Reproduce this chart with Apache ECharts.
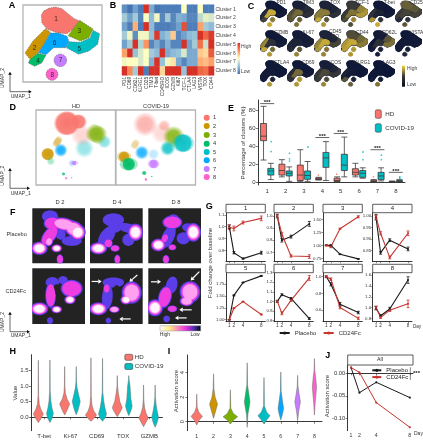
<!DOCTYPE html>
<html><head><meta charset="utf-8">
<style>html,body{margin:0;padding:0;background:#fff}#c{width:423px;height:440px}</style>
<script src="https://cdn.jsdelivr.net/npm/echarts@6/dist/echarts.min.js"></script>
</head><body><div id="c"></div>
<script>
// ---------- DATA ----------
const clusterNames=['1','2','3','4','5','6','7','8'];
const clusterColors=['#F8766D','#CD9600','#7CAE00','#00BE67','#00BFC4','#00A9FF','#C77CFF','#FF61CC'];
const groupNames=['HD','COVID-19'];
const HD_COLOR='#F8766D', COVID_COLOR='#00BFC4';
// UMAP cluster outlines
const poly1=[[123,45],[130,32],[145,24],[165,20],[185,25],[205,42],[222,55],[238,62],[218,86],[200,100],[170,97],[140,86],[125,68]];
const poly2=[[135,85],[150,95],[130,135],[112,157],[90,178],[74,158],[98,122]];
const poly3=[[238,60],[278,86],[266,112],[240,122],[203,106],[218,86]];
const poly4=[[112,159],[137,165],[124,188],[103,198],[84,188],[88,179]];
const poly5=[[278,90],[298,100],[292,132],[266,152],[235,162],[198,142],[206,124],[240,126],[269,113]];
const poly6=[[150,98],[175,98],[200,108],[206,124],[196,142],[160,142],[137,163],[114,157],[132,130]];
const ellipse7=[180,180,19,19,0], ellipse8=[155,222,18,18,0];
const clusterLabelPos=[[167,58],[103,143],[237,94],[113,184],[237,148],[163,128],[181,180],[156,226]];
// Heatmap
const heatColumns=['PD1','CD69','CD62L','KLRG1','CD25','TIM3','T-bet','CD45RO','ICOS','GZMB','Ki67','TCF-1','CTLA4','LAG3','VISTA','TOX','CD44'];
const heatRows=['Cluster 1','Cluster 2','Cluster 3','Cluster 4','Cluster 5','Cluster 6','Cluster 7','Cluster 8'];
const heatR1=[-1.2,-1.5,-1.0,-1.4,2.0,-0.9,-1.5,-1.4,-1.4,-1.4,-1.4,0.2,-1.4,-1.4,0.2,-1.4,-1.4];
const heatR2=[-0.5,-1.0,-0.5,-1.3,0.2,-0.7,0.1,-1.3,-0.5,-1.3,-0.8,-0.9,-1.3,-1.3,-0.3,0.0,-0.1];
const heatR3=[-1.0,-1.4,0.8,-1.4,2.0,-0.7,-1.4,-1.4,-1.4,-1.3,-1.0,1.6,-1.4,-1.4,0.9,-0.5,-0.7];
const heatR4=[-0.5,0.1,-1.2,0.1,0.1,-0.6,1.8,-0.8,-0.6,0.6,-1.3,-1.0,-0.7,-0.6,1.9,1.4,1.8];
const heatR5=[-1.0,-0.5,1.9,-0.4,1.0,-1.3,-0.9,-1.3,-0.8,-1.3,-1.3,2.0,-1.0,-0.5,1.3,-0.2,1.9];
const heatR6=[0.9,2.0,-0.6,-0.1,0.2,-0.5,-0.7,2.0,-0.9,-0.7,-0.6,-0.1,-0.9,-0.9,0.6,0.5,1.5];
const heatR7=[0.1,0.2,0.2,-0.1,0.2,-0.8,2.0,-0.6,0.1,0.4,-0.9,-1.3,-0.9,-0.9,0.8,0.7,0.9];
const heatR8=[1.9,1.1,-0.5,1.9,-1.4,1.9,1.9,0.5,1.9,1.9,1.9,-0.6,1.9,1.9,1.4,1.3,1.9];
const heatMatrix=[heatR1,heatR2,heatR3,heatR4,heatR5,heatR6,heatR7,heatR8];
// Feature maps: marker and mean level per cluster
const featureNames=['PD1','TIM3','TOX','TCF-1','T-bet','CD25','GZMB','Ki-67','CD45\nRO','CD44','CD62L','VISTA','CTLA4','CD69','ICOS','KLRG1','LAG3'];
const featureLevels=[
[.02,.12,.02,.25,.04,.8,.55,.8],[.06,.3,.12,.35,.15,.45,.4,.5],[.08,.55,.08,.8,.15,.55,.35,.7],[.2,.2,.6,.3,.7,.5,.6,.3],
[.02,.15,.02,.7,.04,.08,.15,.8],[.4,.2,.35,.12,.25,.25,.15,.35],[.02,.6,.03,.8,.05,.15,.45,.7],[.04,.08,.04,.12,.06,.08,.35,.6],
[.08,.6,.08,.7,.25,.8,.5,.6],[.3,.7,.45,.75,.55,.8,.7,.7],[.04,.02,.35,.04,.5,.15,.08,.05],[.02,.04,.03,.04,.03,.04,.05,.1],
[.02,.04,.02,.04,.02,.04,.08,.7],[.02,.12,.02,.15,.04,.45,.7,.7],[.05,.18,.08,.2,.18,.28,.28,.6],[.02,.08,.02,.35,.02,.04,.08,.4],[.01,.02,.01,.04,.01,.02,.03,.5]];
// D: cell clouds [cluster, cx, cy, rx, ry, rot°, alpha]
const cloudsHD=[[4,212,132,52,30,0,.4],[4,272,112,28,20,25,.45],[0,205,92,46,34,0,.3],[2,248,88,52,27,28,.9],[0,195,50,24,22,0,.95],[0,160,55,38,37,0,1],[5,175,178,24,12,0,.25],[1,132,112,10,32,32,.6],[1,103,150,19,19,0,.95],[3,112,172,20,13,0,.35],[5,142,138,20,24,18,.9],[6,182,177,13,7,0,.95],[3,150,211,7,6,0,.8],[7,158,224,5,9,0,.7],[3,175,223,5,2.5,0,.9]];
const cloudsCOVID=[[0,205,85,50,34,0,.28],[0,155,58,38,38,0,.55],[0,212,62,26,18,20,.4],[2,240,96,44,32,20,.85],[4,268,116,32,28,0,.95],[4,222,132,42,23,10,.85],[5,145,145,20,30,20,.85],[5,180,150,18,18,0,.25],[1,92,158,21,17,0,.95],[1,125,120,10,28,30,.4],[3,106,181,27,20,0,1],[6,180,180,18,14,0,.95],[3,152,208,9,8,0,.85],[7,157,228,5,10,0,.9],[3,175,218,5,2.5,0,.9]];
// E: box stats [low,Q1,median,Q3,high]
const boxHD=[[24.6,46,51,65,84],[6,8,13,20,25],[1,2,8,19,36],[2.5,3,3.7,4.8,5.5],[.5,1,2,4.5,6],[6,8,11,15,21],[.2,.7,1,2.2,3],[.2,.3,.6,.9,1.4]];
const boxCOVID=[[3,8,12.5,15.4,21],[1,7,10,12.5,17],[1,3.3,7.5,12.5,23],[2,16.5,27,33,45],[6,13,19,31,50],[4.5,5.5,10,13,16],[1.5,3,7,11,16],[.5,.8,1.2,2,3]];
const outliersHD=[[],[],[],[8],[9],[],[6],[]];
const outliersCOVID=[[45,34],[32,26,23.5],[39],[],[],[33.5,25],[30,25],[3.7,5,6]];
const boxSigCats=[1,4,5,7,8], boxSigLevels=[87,49.5,54,36,11];
const boxTicks=[0,20,40,60,80];
// F: density blobs in image space [cx,cy,rx,ry,rot°,level]; level -1 is a gap
const densityPlaceboD2=[[53,24,24,18,0,0],[60,45,26,20,0,1],[95,48,40,20,10,2],[125,62,30,24,25,2],[136,72,24,24,0,3],[52,82,19,36,38,1],[85,78,15,16,0,0],[118,98,30,15,0,0],[21,120,25,20,0,3],[50,100,12,14,20,2],[73,120,16,12,0,3],[83,153,10,15,0,1]];
const densityPlaceboD4=[[70,35,32,20,0,0],[75,55,20,18,0,0],[115,60,34,14,15,0],[136,72,23,26,0,3],[50,85,20,36,35,0],[25,120,26,18,0,3],[55,105,13,13,20,1],[75,120,14,10,0,1],[82,153,9,14,0,1],[115,95,18,18,0,0]];
const densityPlaceboD8=[[72,42,30,20,0,1],[75,30,16,12,0,0],[125,60,24,14,15,0],[135,72,23,28,0,3],[60,85,18,36,25,0],[30,110,22,19,0,3],[50,90,10,14,20,1],[72,117,12,9,0,1],[53,153,10,13,0,1],[105,90,20,18,0,0]];
const densityCD24D2=[[60,42,20,16,0,0],[92,35,14,12,0,0],[118,60,33,26,0,1],[130,55,18,16,0,0],[73,62,10,15,0,-1],[113,93,17,13,0,3],[55,80,16,38,0,1],[21,120,27,19,0,3],[73,122,16,11,0,3],[53,155,9,10,0,0]];
const densityCD24D4=[[70,42,32,15,0,0],[52,85,16,36,5,0],[50,60,10,14,0,1],[125,72,30,33,0,2],[80,68,10,18,0,-1],[108,93,17,14,0,3],[25,120,27,19,0,3],[73,122,16,10,0,2],[55,155,8,9,0,0]];
const densityCD24D8=[[70,50,17,26,15,0],[50,85,20,34,15,1],[125,70,31,32,0,2],[115,97,21,15,0,2],[20,117,24,25,0,3],[72,120,15,10,0,1],[55,150,10,10,0,0]];
const densityFrames=[densityPlaceboD2,densityPlaceboD4,densityPlaceboD8,densityCD24D2,densityCD24D4,densityCD24D8];
const densityTitles=['D 2','D 4','D 8'];
const arrowsCD24D4=[[5,39,35,39],[142,20,118,40],[122,150,88,150]];
const arrowsCD24D8=[[8,40,38,40],[153,10,127,36],[130,123,93,123],[115,147,80,147]];
// G
const days=[1,2,4,8];
const gPlacebo=[[1,.78,.73,.78],[1,.8,.83,.935],[1,1,.83,.74],[.995,.84,.895,.857],[1,1.51,1.78,1.92],[1,1.07,1.03,.82],[1,.91,.67,.57],[.99,.85,.975,1.51]];
const gCD24=[[.995,.985,1.035,1.07],[1,.85,.67,.665],[1,.975,1.32,1.55],[.997,.925,.82,.925],[1,1.24,1.38,1.11],[1,.875,1.01,1.245],[1,.97,.63,.5],[1,.82,.95,1.07]];
const gPlaceboErr=[[.015,.01,.005,.012],[.015,.015,.012,.02],[.005,.01,.005,.005],[.012,.006,.006,.008],[.005,.01,.005,.01],[.01,.01,.01,.01],[.01,.02,.02,.015],[.03,.02,.03,.06]];
const gCD24Err=[[.02,.02,.012,.02],[.01,.015,.01,.015],[.01,.02,.01,.02],[.005,.007,.006,.01],[.005,.01,.005,.01],[.01,.015,.01,.025],[.01,.015,.015,.015],[.03,.02,.02,.07]];
const gTicks=[['0.7','0.8','0.9','1.0','1.1'],['0.7','0.8','0.9','1.0'],['0.75','1.00','1.25','1.50'],['0.80','0.85','0.90','0.95','1.00'],['1.00','1.25','1.50','1.75'],['0.8','0.9','1.0','1.1','1.2','1.3'],['0.6','0.8','1.0'],['0.8','1.0','1.2','1.4','1.6']];
const gRanges=[[.704,1.118],[.6226,1.0275],[.686,1.628],[.8014,1.0145],[.958,1.987],[.787,1.30],[.46,1.048],[.74,1.646]];
// H: violins, profile of [value, half width]
const hMarkers=['T-bet','Ki-67','CD69','TOX','GZMB'];
const violinHD=[
[[-.17,0],[-.05,2.6],[.1,5],[.25,2.6],[.42,.9],[.7,.25],[1.82,.05]],
[[.07,0],[.22,2.4],[.42,5],[.6,2.2],[.78,.7],[1,.25],[1.62,.05]],
[[-.13,0],[-.03,3.2],[.07,5.6],[.2,2.8],[.38,1],[.7,.25],[1.9,.05]],
[[.02,0],[.15,2.6],[.3,5],[.5,2.6],[.75,1.2],[1,.25],[1.33,.05]],
[[-.3,0],[-.15,2.6],[-.02,4.7],[.12,2.6],[.3,1],[.55,.25],[1.03,.05]]];
const violinCOVID=[
[[-.17,0],[-.03,2.2],[.12,3.4],[.3,2],[.5,1],[.85,.25],[1.83,.05]],
[[.08,0],[.25,2],[.5,4],[.72,2.4],[.95,.8],[1.15,.25],[1.62,.05]],
[[-.13,0],[-.02,2.6],[.1,4],[.3,2.4],[.5,1.3],[.8,.25],[1.88,.05]],
[[.05,0],[.2,2],[.35,3.3],[.6,2],[1,1.2],[1.2,.3],[1.33,.05]],
[[-.32,0],[-.17,2],[0,3.4],[.2,2],[.4,1],[.65,.25],[1.03,.05]]];
const hTicks=[0,.5,1,1.5];
// I
const violinCluster=[
[[-.27,0],[.1,2.2],[.43,5.7],[.8,2],[1.2,.4],[2.25,.05]],
[[.27,0],[.8,1.8],[1.43,4],[2,1.6],[2.7,.4],[3.9,.05]],
[[-.19,0],[.12,3],[.4,7.3],[.68,3],[1.1,.4],[2.6,.05]],
[[-.46,0],[.6,.7],[1.2,2],[1.62,2.8],[2.2,1.8],[3,.35],[4.8,.05]],
[[-.19,0],[.18,3],[.49,6],[.8,2.6],[1.3,.4],[3.6,.05]],
[[.14,0],[.6,1.6],[1.08,2.8],[1.7,1.7],[2.5,.35],[4.05,.05]],
[[.08,0],[.8,1],[1.62,2.8],[2.2,1.6],[2.9,.35],[3.78,.05]],
[[.54,0],[1.5,.7],[2.3,1.6],[2.84,2.1],[3.5,1.4],[4.2,.35],[5.14,.05]]];
const iTicks=[0,2,4];
// J
const jDays=[1,2,4,8];
const jPlacebo=[.0126,-.043,-.02,-.054];
const jCD24=[.0126,.002,-.065,-.12];
const jTicks=['0.00','-0.05','-0.10'];

// ---------- HELPERS ----------
const FONT='"Liberation Sans",Arial,sans-serif';
const INK='#2a2a2a';
const grids=[],xAxes=[],yAxes=[],series=[],graphics=[],legends=[];
const rad=d=>d*Math.PI/180;
function ell(c){const [cx,cy,rx,ry,rot]=c,o=[],r=rad(rot||0);for(let i=0;i<28;i++){const t=i/28*2*Math.PI,a=rx*Math.cos(t),b=ry*Math.sin(t);o.push([cx+a*Math.cos(r)-b*Math.sin(r),cy+a*Math.sin(r)+b*Math.cos(r)]);}return o;}
function hexA(h,a){const n=parseInt(h.slice(1),16);return `rgba(${n>>16},${(n>>8)&255},${n&255},${a})`;}
function mix(a,b,t){const p=parseInt(a.slice(1),16),q=parseInt(b.slice(1),16),f=s=>Math.round(((p>>s)&255)*(1-t)+((q>>s)&255)*t);return `rgb(${f(16)},${f(8)},${f(0)})`;}
function hiddenAxis(min,max,inv){return {type:'value',show:false,min,max,inverse:!!inv,splitLine:{show:false}};}
function addGrid(box,x,y,extra){const i=grids.length;grids.push(Object.assign({left:box[0],top:box[1],width:box[2],height:box[3],containLabel:false,outerBoundsMode:'none'},extra||{}));
  xAxes.push(Object.assign({gridIndex:i},x));yAxes.push(Object.assign({gridIndex:i},y));return i;}
function shapeSeries(i,shapes,xi){series.push({type:'custom',xAxisIndex:xi==null?i:xi,yAxisIndex:i,clip:true,silent:true,z:2,
  data:shapes.map((s,k)=>[s.pts[0][0],s.pts[0][1],k]),
  renderItem:(p,api)=>{const s=shapes[p.dataIndex];return {type:'polygon',shape:{points:s.pts.map(q=>api.coord(q)),smooth:s.smooth||0},style:{fill:s.fill,stroke:s.stroke||null,lineWidth:s.lw||0,lineDash:s.dash||null,opacity:s.op==null?1:s.op}};}});}
function txt(x,y,text,o){o=o||{};graphics.push({type:'text',x,y,rotation:o.rot||0,silent:true,z:20,style:{text,fontFamily:FONT,fontSize:o.size||6,fontWeight:o.weight||'normal',fill:o.color||INK,align:o.align||'center',verticalAlign:o.va||'middle',lineHeight:o.lh}});}
function seg(x1,y1,x2,y2,c,w){graphics.push({type:'line',silent:true,z:20,shape:{x1,y1,x2,y2},style:{stroke:c||INK,lineWidth:w||.7}});}
function tri(p,c){graphics.push({type:'polygon',silent:true,z:20,shape:{points:p},style:{fill:c||'#111'}});}
function umapKey(x0,yb,up,xr,lab2y,lab1y){seg(x0,yb,x0,up+2);seg(x0,yb,xr-2,yb);tri([[x0-1.8,up+3],[x0+1.8,up+3],[x0,up]]);tri([[xr-3,yb-1.8],[xr-3,yb+1.8],[xr,yb]]);
  txt(2.8,lab2y,'UMAP_2',{size:5,rot:Math.PI/2,color:'#333'});txt(20.7,lab1y,'UMAP_1',{size:5,color:'#333'});}
const clusterPolys=[poly1,poly2,poly3,poly4,poly5,poly6,ell(ellipse7),ell(ellipse8)];
const silhouette=[[123,45],[140,24],[165,20],[190,28],[238,60],[278,88],[298,100],[292,132],[266,152],[235,162],[200,144],[190,145],[160,144],[137,165],[124,188],[103,198],[84,188],[74,158],[98,122],[135,85]];

// panel letters
[['A',12,6],['B',113,6],['C',251,7],['D',12.7,108],['E',231,109],['F',12.7,212.7],['G',209.3,207],['H',12.7,352],['I',169,352],['J',327.7,356]]
 .forEach(l=>txt(l[1],l[2],l[0],{size:9,weight:'bold',color:'#000'}));

// ---------- A ----------
{const g=addGrid([23,5,79,77],hiddenAxis(68,305),hiddenAxis(14,245,true),{show:true,borderColor:'#b5b5b5',borderWidth:1.3,backgroundColor:'#fff'});
 shapeSeries(g,clusterPolys.map((pts,k)=>({pts,fill:clusterColors[k],stroke:'#6a6a6a',lw:.6,dash:[1.5,1]})));
 series.push({type:'scatter',xAxisIndex:g,yAxisIndex:g,symbolSize:0,z:5,silent:true,data:clusterLabelPos.map((p,k)=>({value:p,name:clusterNames[k]})),
   label:{show:true,position:'inside',formatter:'{b}',fontFamily:FONT,fontSize:6.5,color:'#111'}});
 umapKey(10,91.7,71.7,31.7,78,96.7);}

// ---------- B ----------
{const g=addGrid([122,4.7,92,70.6],
  {type:'category',data:heatColumns,axisLine:{show:false},axisTick:{show:false},splitLine:{show:false},axisLabel:{rotate:90,interval:0,fontFamily:FONT,fontSize:4.8,margin:1.5,color:'#333'}},
  {type:'category',data:heatRows,inverse:true,position:'right',axisLine:{show:false},axisTick:{show:false},splitLine:{show:false},axisLabel:{interval:0,fontFamily:FONT,fontSize:5.1,margin:1.5,color:'#444'}});
 const d=[];heatMatrix.forEach((r,y)=>r.forEach((v,x)=>d.push([x,y,v])));
 series.push({type:'heatmap',xAxisIndex:g,yAxisIndex:g,data:d,silent:true,itemStyle:{borderWidth:0}});
 var heatIdx=series.length-1;
 graphics.push({type:'rect',silent:true,z:20,shape:{x:237.5,y:43,width:2.6,height:31},style:{fill:{type:'linear',x:0,y:0,x2:0,y2:1,colorStops:[{offset:0,color:'#d73027'},{offset:.25,color:'#fc8d59'},{offset:.5,color:'#ffffbf'},{offset:.75,color:'#91bfdb'},{offset:1,color:'#4575b4'}]}}});
 txt(241,47,'High',{size:5,align:'left',color:'#444'});txt(241,71.5,'Low',{size:5,align:'left',color:'#444'});}

// ---------- C ----------
{const lefts=[260.3,287.3,314.3,341.3,368.3,395.5],tops=[.8,30.5,60.5];
 featureNames.forEach((name,i)=>{const c=i%6,r=Math.floor(i/6),L=lefts[c],T=tops[r];
  const g=addGrid([L,T,26,26],hiddenAxis(77,295),hiddenAxis(22,240,true));
  const sh=[{pts:silhouette,fill:'#0b1538',stroke:'#0b1538',lw:1.2}];
  featureLevels[i].forEach((v,k)=>{const col=mix('#0b1538','#f3cf3a',v);sh.push({pts:clusterPolys[k],fill:col,stroke:col,lw:1});});
  shapeSeries(g,sh);
  const two=name.includes('\n');txt(L+21,T+(two?3.5:(r===0?1.6:2)),name,{size:4.9,lh:5,color:'#333'});});
 graphics.push({type:'rect',silent:true,z:20,shape:{x:402,y:65.7,width:3,height:21},style:{fill:{type:'linear',x:0,y:0,x2:0,y2:1,colorStops:[{offset:0,color:'#f6d33c'},{offset:.5,color:'#3a3a3a'},{offset:1,color:'#05081a'}]}}});
 txt(407,68.7,'High',{size:5,align:'left',color:'#444'});txt(407,84.3,'Low',{size:5,align:'left',color:'#444'});}

// ---------- D ----------
function softFill(col,a){return {type:'radial',x:.5,y:.5,r:.5,colorStops:[{offset:0,color:hexA(col,a)},{offset:a>.9?.85:.55,color:hexA(col,a*.9)},{offset:1,color:hexA(col,a>.9?.35:0)}]};}
[[36,cloudsHD,'HD'],[116,cloudsCOVID,'COVID-19']].forEach(([L,cl,t])=>{
 const g=addGrid([L,110,79.5,75],hiddenAxis(68,305),hiddenAxis(14,245,true),{show:true,borderColor:'#b5b5b5',borderWidth:1.3,backgroundColor:'#fff'});
 shapeSeries(g,cl.map(b=>({pts:ell(b.slice(1,6)),fill:softFill(clusterColors[b[0]],b[6])})));
 txt(L+40,106,t,{size:5.6,color:'#333'});});
umapKey(10,188.3,168,30,175.7,194);
{const ys=[117.7,126,135,143.7,152,160.3,169,177];
 clusterNames.forEach((n,k)=>{graphics.push({type:'circle',silent:true,z:20,shape:{cx:206.7,cy:ys[k],r:3},style:{fill:clusterColors[k]}});txt(213,ys[k],n,{size:5.6,align:'left',color:'#333'});});}

// ---------- F ----------
{const lefts=[32.3,90,148.3],tops=[208.3,268.3],H=[55,55.7];
 const levelColors=['#5b3ee8','#ee3ee2','#ffa0f0','#fff5fb'],BG='#232323';
 densityFrames.forEach((blobs,i)=>{const c=i%3,r=Math.floor(i/3);
  const g=addGrid([lefts[c],tops[r],52.7,H[r]],hiddenAxis(0,158),hiddenAxis(0,165,true),{show:true,backgroundColor:BG,borderWidth:0});
  const sh=[];
  for(let k=0;k<4;k++){blobs.forEach(b=>{if(b[5]>=k){const s=1-.14*k;sh.push({pts:ell([b[0],b[1],b[2]*s,b[3]*s,b[4]]),fill:levelColors[k]});}});
    if(k===0)blobs.forEach(b=>{if(b[5]<0)sh.push({pts:ell(b.slice(0,5)),fill:BG});});}
  shapeSeries(g,sh);
  const arrows=i===4?arrowsCD24D4:i===5?arrowsCD24D8:[];
  if(arrows.length)series.push({type:'custom',xAxisIndex:g,yAxisIndex:g,silent:true,clip:false,z:6,data:arrows,
   renderItem:(p,api)=>{const a=api.coord([api.value(0),api.value(1)]),b=api.coord([api.value(2),api.value(3)]),t=Math.atan2(b[1]-a[1],b[0]-a[0]),h=3.4,w=2.2;
    const bx=b[0]-h*Math.cos(t),by=b[1]-h*Math.sin(t),nx=-Math.sin(t)*w,ny=Math.cos(t)*w;
    return {type:'group',children:[{type:'line',shape:{x1:a[0],y1:a[1],x2:bx,y2:by},style:{stroke:'#fff',lineWidth:1.2}},{type:'polygon',shape:{points:[b,[bx+nx,by+ny],[bx-nx,by-ny]]},style:{fill:'#fff'}}]};}});
 });
 densityTitles.forEach((t,k)=>txt([60,117,176][k],202.7,t,{size:5.8,color:'#333'}));
 txt(16.7,234,'Placebo',{size:5.6,color:'#333'});txt(15.7,291.7,'CD24Fc',{size:5.6,color:'#333'});
 graphics.push({type:'rect',silent:true,z:20,shape:{x:160,y:325.7,width:40.7,height:5.3},style:{stroke:'#999',lineWidth:.5,fill:{type:'linear',x:0,y:0,x2:1,y2:0,colorStops:[{offset:0,color:'#ffffff'},{offset:.25,color:'#ffe880'},{offset:.45,color:'#ff80c0'},{offset:.65,color:'#e030e0'},{offset:.85,color:'#4030a0'},{offset:1,color:'#000000'}]}}});
 txt(165,335,'High',{size:5,color:'#333'});txt(195,335,'Low',{size:5,color:'#333'});
 umapKey(10,331.7,311.7,30,322,336);}

// ---------- G ----------
{const lefts=[226,274,323,372.7],tops=[212.7,272.7];
 gPlacebo.forEach((_,i)=>{const c=i%4,r=Math.floor(i/4),L=lefts[c],T=tops[r],W=39.3,HH=49;
  const ticks=gTicks[i],bot=r===1;
  const g=addGrid([L,T,W,HH],
   {type:'value',min:.28,max:8.87,splitLine:{show:false},axisLine:{lineStyle:{color:'#222',width:.9}},axisTick:{length:1.5,customValues:days,lineStyle:{color:'#222',width:.5}},axisLabel:{show:bot,customValues:days,fontFamily:FONT,fontSize:4.6,margin:1.5,color:'#333'}},
   {type:'value',min:gRanges[i][0],max:gRanges[i][1],splitLine:{show:false},axisLine:{show:true,lineStyle:{color:'#222',width:.9}},axisTick:{show:true,length:1.5,customValues:ticks.map(Number),lineStyle:{color:'#222',width:.5}},
    axisLabel:{customValues:ticks.map(Number),formatter:v=>v.toFixed(ticks[0].split('.')[1].length),fontFamily:FONT,fontSize:4.4,margin:1.5,color:'#333'}});
  [[gPlacebo[i],gPlaceboErr[i],'#1a1a1a','Placebo'],[gCD24[i],gCD24Err[i],'#c6362f','CD24Fc']].forEach(([v,e,col,n])=>{
   series.push({type:'custom',xAxisIndex:g,yAxisIndex:g,silent:true,clip:false,z:3,data:days.map((d,k)=>[d,v[k]-e[k],v[k]+e[k]]),
    renderItem:(p,api)=>{const a=api.coord([api.value(0),api.value(1)]),b=api.coord([api.value(0),api.value(2)]),s={stroke:col,lineWidth:.8};
     return {type:'group',children:[{type:'line',shape:{x1:a[0],y1:a[1],x2:b[0],y2:b[1]},style:s},{type:'line',shape:{x1:a[0]-1.5,y1:a[1],x2:a[0]+1.5,y2:a[1]},style:s},{type:'line',shape:{x1:b[0]-1.5,y1:b[1],x2:b[0]+1.5,y2:b[1]},style:s}]};}});
   series.push({type:'line',name:n,xAxisIndex:g,yAxisIndex:g,data:days.map((d,k)=>[d,v[k]]),symbol:'circle',symbolSize:2,silent:true,clip:false,lineStyle:{color:col,width:1.1},itemStyle:{color:col},z:4});});
  graphics.push({type:'rect',silent:true,z:20,shape:{x:L,y:T-8.4,width:W,height:8.4},style:{fill:'#fff',stroke:'#333',lineWidth:.8}});
  txt(L+W/2,T-4.1,String(i+1),{size:6,color:'#222'});});
 txt(413,326.7,'Day',{size:4.6,align:'left',color:'#333'});
 txt(210.5,263,'Fold change over baseline',{size:6,rot:Math.PI/2,color:'#333'});
 legends.push({data:['Placebo','CD24Fc'],left:278.7,top:330,padding:0,itemWidth:10,itemHeight:4,itemGap:6.3,selectedMode:false,textStyle:{fontFamily:FONT,fontSize:6,color:'#333'}});}

// ---------- H & I violins ----------
function violinSeries(g,name,col,xs,profiles,scale){series.push({type:'custom',name,xAxisIndex:g,yAxisIndex:g,silent:true,clip:false,z:3,itemStyle:{color:Array.isArray(col)?col[0]:col},
  data:xs.map((x,k)=>[x,profiles[k][0][0],k]),
  renderItem:(p,api)=>{const k=api.value(2),x=api.value(0),pr=profiles[k],R=pr.map(q=>{const c=api.coord([x,q[0]]);return [c[0]+q[1]*scale,c[1]];}),Lf=pr.slice().reverse().map(q=>{const c=api.coord([x,q[0]]);return [c[0]-q[1]*scale,c[1]];});
   return {type:'polygon',shape:{points:R.concat(Lf)},style:{fill:Array.isArray(col)?col[k]:col,stroke:'#6e6e6e',lineWidth:.5}};}});}
const legendGroupData=[{name:'HD',itemStyle:{color:HD_COLOR,borderColor:'#444',borderWidth:.6}},{name:'COVID-19',itemStyle:{color:COVID_COLOR,borderColor:'#444',borderWidth:.6}}];
{const g=addGrid([31,354.7,131.5,76],
  {type:'value',min:.5,max:5.5,splitLine:{show:false},axisLine:{lineStyle:{color:'#222',width:.9}},axisTick:{length:2,customValues:[1,2,3,4,5],lineStyle:{color:'#222',width:.6}},axisLabel:{customValues:[1,2,3,4,5],formatter:v=>hMarkers[v-1],fontFamily:FONT,fontSize:6,margin:3,color:'#333'}},
  {type:'value',min:-.43,max:2,splitLine:{show:false},axisLine:{show:true,lineStyle:{color:'#222',width:.9}},axisTick:{show:true,length:2,customValues:hTicks,lineStyle:{color:'#222',width:.6}},axisLabel:{customValues:hTicks,formatter:v=>v.toFixed(1),fontFamily:FONT,fontSize:6,margin:2.5,color:'#333'}});
 violinSeries(g,'HD',HD_COLOR,[.78,1.78,2.78,3.78,4.78],violinHD,1);
 violinSeries(g,'COVID-19',COVID_COLOR,[1.22,2.22,3.22,4.22,5.22],violinCOVID,1);
 legends.push({data:legendGroupData,orient:'vertical',left:124.5,top:354,padding:0,itemWidth:8,itemHeight:6,itemGap:2.6,selectedMode:false,textStyle:{fontFamily:FONT,fontSize:6.2,color:'#333',padding:[0,0,0,-3]}});
 txt(15.7,393,'Value',{size:6,rot:Math.PI/2,color:'#333'});}
{const xs=[1,2,3,4,5,6,7,8];
 const g=addGrid([187.5,355,134.5,75.7],
  {type:'value',min:.45,max:8.45,splitLine:{show:false},axisLine:{lineStyle:{color:'#222',width:.9}},axisTick:{length:2,customValues:xs,lineStyle:{color:'#222',width:.6}},axisLabel:{customValues:xs,fontFamily:FONT,fontSize:5.2,margin:3,color:'#333'}},
  {type:'value',min:-.73,max:5.44,splitLine:{show:false},axisLine:{show:true,lineStyle:{color:'#222',width:.9}},axisTick:{show:true,length:2,customValues:iTicks,lineStyle:{color:'#222',width:.6}},axisLabel:{customValues:iTicks,rotate:90,fontFamily:FONT,fontSize:5.6,margin:2,color:'#333'}});
 violinSeries(g,'Cluster score',clusterColors,xs,violinCluster,1);
 txt(176.7,391,'Activation score',{size:6,rot:Math.PI/2,color:'#333'});}

// ---------- J ----------
{const g=addGrid([347.7,365,65.3,65.7],
  {type:'value',min:.6,max:8.38,splitLine:{show:false},axisLine:{lineStyle:{color:'#222',width:.9}},axisTick:{length:2,customValues:jDays,lineStyle:{color:'#222',width:.6}},axisLabel:{customValues:jDays,fontFamily:FONT,fontSize:5.2,margin:2.5,color:'#333'}},
  {type:'value',min:-.1276,max:.0184,splitLine:{show:false},axisLine:{show:true,lineStyle:{color:'#222',width:.9}},axisTick:{show:true,length:2,customValues:jTicks.map(Number),lineStyle:{color:'#222',width:.6}},axisLabel:{customValues:jTicks.map(Number),formatter:v=>v.toFixed(2),fontFamily:FONT,fontSize:5.8,margin:2.5,color:'#333'}});
 [[jPlacebo,'#1a1a1a','Placebo'],[jCD24,'#c6362f','CD24Fc']].forEach(([v,c,n])=>series.push({type:'line',name:n,xAxisIndex:g,yAxisIndex:g,data:jDays.map((d,k)=>[d,v[k]]),symbol:'circle',symbolSize:2.2,silent:true,clip:false,lineStyle:{color:c,width:1},itemStyle:{color:c},z:4}));
 graphics.push({type:'rect',silent:true,z:20,shape:{x:347.7,y:355,width:65.3,height:10},style:{fill:'#fff',stroke:'#333',lineWidth:.8}});
 txt(380,360,'All',{size:5.2,color:'#222'});
 legends.push({data:['Placebo','CD24Fc'],orient:'vertical',left:371.3,top:367.3,padding:0,itemWidth:9,itemHeight:4,itemGap:.8,selectedMode:false,textStyle:{fontFamily:FONT,fontSize:6,color:'#222'}});
 seg(410.3,367.3,410.3,380,'#333',.6);txt(416.5,373.5,'***',{size:6,weight:'bold',color:'#222'});
 txt(414,431,'Day',{size:5,align:'left',color:'#333',va:'top'});
 txt(327,396,'Activation score',{size:6,rot:Math.PI/2,color:'#333'});}

// ---------- E (last: it adds one hidden x axis) ----------
{const g=addGrid([258,100,147,85],
  {type:'category',data:clusterNames,axisLine:{lineStyle:{color:'#222',width:.9}},axisTick:{length:2,alignWithLabel:true,lineStyle:{color:'#222',width:.6}},axisLabel:{fontFamily:FONT,fontSize:6,margin:3,color:'#333'},boundaryGap:true,splitLine:{show:false}},
  {type:'value',min:-3,max:91,axisLine:{show:true,lineStyle:{color:'#222',width:.9}},axisTick:{show:true,length:2,customValues:boxTicks,lineStyle:{color:'#222',width:.6}},axisLabel:{customValues:boxTicks,fontFamily:FONT,fontSize:6,margin:2.5,color:'#333'},splitLine:{show:false}});
 xAxes.push({gridIndex:g,type:'value',show:false,min:.5,max:8.5});const xh=xAxes.length-1;
 [[boxHD,HD_COLOR,'HD'],[boxCOVID,COVID_COLOR,'COVID-19']].forEach(([d,c,n])=>series.push({type:'boxplot',name:n,xAxisIndex:g,yAxisIndex:g,data:d,boxWidth:[6,6],silent:true,itemStyle:{color:c,borderColor:'#3a3a3a',borderWidth:.8},z:3}));
 [[outliersHD,HD_COLOR,-.215],[outliersCOVID,COVID_COLOR,.215]].forEach(([o,c,dx])=>{const d=[];o.forEach((l,k)=>l.forEach(v=>d.push([k+1+dx,v])));
   series.push({type:'scatter',xAxisIndex:xh,yAxisIndex:g,data:d,symbolSize:1.8,silent:true,itemStyle:{color:c},z:3});});
 series.push({type:'custom',xAxisIndex:xh,yAxisIndex:g,silent:true,clip:false,z:4,data:boxSigCats.map((c,k)=>[c,boxSigLevels[k]]),
  renderItem:(p,api)=>{const a=api.coord([api.value(0)-.38,api.value(1)]),b=api.coord([api.value(0)+.38,api.value(1)]);
   return {type:'group',children:[{type:'line',shape:{x1:a[0],y1:a[1],x2:b[0],y2:b[1]},style:{stroke:'#222',lineWidth:.7}},{type:'text',style:{text:'***',x:(a[0]+b[0])/2,y:a[1]-1,align:'center',verticalAlign:'middle',fontFamily:FONT,fontSize:6,fontWeight:'bold',fill:'#222'}}]};}});
 legends.push({data:legendGroupData,orient:'vertical',left:375,top:109.5,padding:0,itemWidth:6,itemHeight:8.5,itemGap:4.8,selectedMode:false,textStyle:{fontFamily:FONT,fontSize:6.2,color:'#333',padding:[0,0,0,-1]}});
 txt(243,143,'Percentage of clusters (%)',{size:6.2,rot:Math.PI/2,color:'#333'});}

// ---------- CHART ----------
const chart=echarts.init(document.getElementById('c'),null,{renderer:'canvas',width:423,height:440});
chart.setOption({animation:false,backgroundColor:'#fff',textStyle:{fontFamily:FONT},grid:grids,xAxis:xAxes,yAxis:yAxes,series,legend:legends,graphic:{elements:graphics},
 visualMap:{show:false,type:'continuous',seriesIndex:heatIdx,min:-1.5,max:1.9,inRange:{color:['#4575b4','#91bfdb','#ffffbf','#fc8d59','#d73027']}}});
</script></body></html>
